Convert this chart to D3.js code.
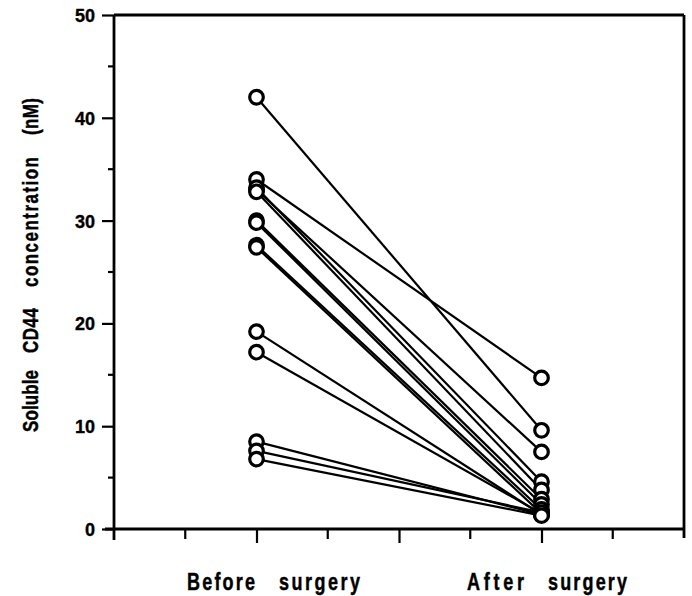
<!DOCTYPE html>
<html>
<head>
<meta charset="utf-8">
<script src="https://cdn.jsdelivr.net/npm/d3@7"></script>
<style>
  html, body { margin: 0; padding: 0; background: #fff; }
  svg { display: block; }
  text { font-family: "Liberation Sans", Arial, Helvetica, sans-serif; font-weight: bold; fill: #000;
         stroke: #000; stroke-width: 0.35px; }
</style>
</head>
<body>
<svg id="chart" width="692" height="596"></svg>
<script>
// Paired soluble CD44 measurements (nM) per patient
const groups = ["Before", "surgery", "After", "surgery"];
const groupPos = [2, 6];
const beforeValues = [42, 34, 33, 33.2, 32.8, 30, 29.8, 27.6, 27.4, 19.2, 17.2, 8.5, 7.6, 6.8];
const afterValues  = [9.6, 14.7, 7.5, 4.6, 3.8, 2.9, 2.4, 1.9, 1.5, 1.4, 1.5, 1.4, 1.6, 1.3];
const yTicks = [0, 10, 20, 30, 40, 50];
const yMinorTicks = [5, 15, 25, 35, 45];
const xMajorTicks = [2, 4, 6];
const xMinorTicks = [1, 3, 5, 7];
const titleWords = ["Soluble", "CD44", "concentration", "(nM)"];

const svg = d3.select("#chart");
const margin = { left: 114, right: 8, top: 15, bottom: 67 };
const W = 692, H = 596;
const x = d3.scaleLinear().domain([0, 8]).range([margin.left, W - margin.right]);
const y = d3.scaleLinear().domain([0, 50]).range([H - margin.bottom, margin.top]);

const axisW = 2.8;

// frame: top and right edges (right edge runs a little below the baseline)
svg.append("line").attr("x1", x(0)).attr("x2", x(8)).attr("y1", y(50)).attr("y2", y(50))
  .attr("stroke", "#000").attr("stroke-width", axisW);
svg.append("line").attr("x1", x(8)).attr("x2", x(8)).attr("y1", y(50)).attr("y2", y(0) + 9)
  .attr("stroke", "#000").attr("stroke-width", axisW);

// y axis with major and minor ticks
const yAxis = svg.append("g").attr("transform", `translate(${x(0)},0)`)
  .call(d3.axisLeft(y).tickValues(yTicks).tickSize(12).tickPadding(7).tickFormat(d3.format("d")));
yAxis.append("g").selectAll("line").data(yMinorTicks).join("line")
  .attr("x1", -6).attr("x2", 0).attr("y1", d => y(d)).attr("y2", d => y(d))
  .attr("stroke", "#000").attr("stroke-width", 2.2);
yAxis.select(".domain").attr("stroke-width", axisW).attr("d", `M0,${y(50)}V${y(0) + 11}`);
yAxis.selectAll(".tick line").attr("stroke-width", 2.2);
yAxis.selectAll(".tick text").attr("font-size", 18).attr("dy", "0.36em")
  .style("font-family", "'Liberation Sans', Arial, sans-serif").style("font-weight", "bold");

// x axis
const xAxis = svg.append("g").attr("transform", `translate(0,${y(0)})`)
  .call(d3.axisBottom(x).tickValues(xMajorTicks).tickSize(14).tickFormat(""));
xAxis.select(".domain").attr("stroke-width", axisW).attr("d", `M${x(0) - 9},0H${x(8)}`);
xAxis.selectAll(".tick line").attr("stroke-width", 2.2);
xAxis.append("g").selectAll("line").data(xMinorTicks).join("line")
  .attr("x1", d => x(d)).attr("x2", d => x(d)).attr("y1", 0).attr("y2", 10)
  .attr("stroke", "#000").attr("stroke-width", 2.2);

// group labels, one word at a time (left edge, length)
const labelSpans = [[187, 68], [279, 81], [467, 57], [548, 79]];
svg.append("g").selectAll("text").data(groups).join("text")
  .attr("transform", (d, i) => `translate(${labelSpans[i][0]},590) scale(1,1.3)`)
  .attr("font-size", 18)
  .attr("textLength", (d, i) => labelSpans[i][1])
  .attr("lengthAdjust", "spacing")
  .text(d => d);

// rotated y axis title, one word at a time (bottom edge, length)
const titleSpans = [[432, 62], [353, 45], [287, 130], [135, 37]];
svg.append("g").selectAll("text").data(titleWords).join("text")
  .attr("transform", (d, i) => `translate(38,${titleSpans[i][0]}) rotate(-90) scale(1,1.35)`)
  .attr("font-size", 17)
  .attr("textLength", (d, i) => titleSpans[i][1])
  .attr("lengthAdjust", "spacing")
  .text(d => d);

// paired lines
const pairs = beforeValues.map((b, i) => ({ b, a: afterValues[i] }));
svg.append("g").selectAll("line").data(pairs).join("line")
  .attr("x1", x(groupPos[0])).attr("y1", d => y(d.b))
  .attr("x2", x(groupPos[1])).attr("y2", d => y(d.a))
  .attr("stroke", "#000").attr("stroke-width", 2.2);

// open circle markers
const pts = [];
pairs.forEach(d => {
  pts.push({ gx: groupPos[0], v: d.b });
  pts.push({ gx: groupPos[1], v: d.a });
});
svg.append("g").selectAll("circle").data(pts).join("circle")
  .attr("cx", d => x(d.gx)).attr("cy", d => y(d.v)).attr("r", 6.8)
  .attr("fill", "#fff").attr("stroke", "#000").attr("stroke-width", 3.2);
</script>
</body>
</html>
